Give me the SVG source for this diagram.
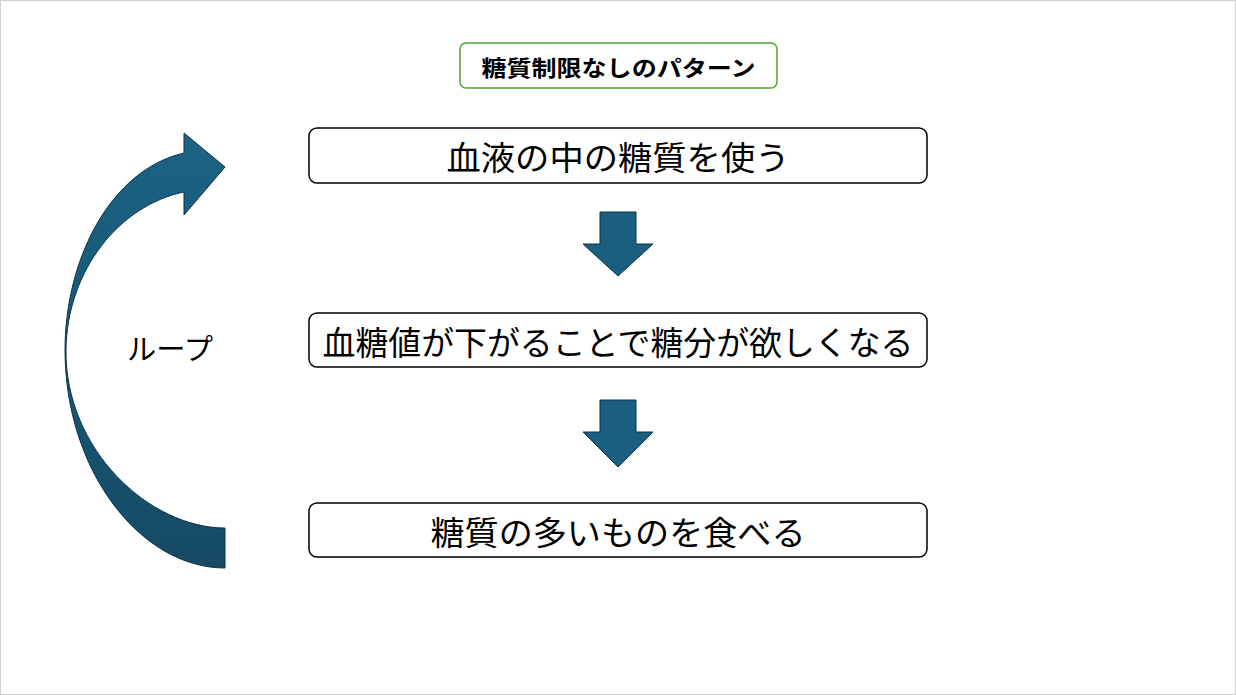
<svg xmlns="http://www.w3.org/2000/svg" width="1236" height="695" viewBox="0 0 1236 695">
<style>
.box{fill:#fff;stroke:#000;stroke-width:1.5}
.t{font-family:"Noto Sans CJK JP","Noto Sans CJK SC",sans-serif;fill:#000;text-anchor:middle;dominant-baseline:central}
.arr{fill:#1a5f80;stroke:#0f3347;stroke-width:1}
</style>
<defs>
<linearGradient id="g" x1="0" y1="0" x2="0" y2="1">
<stop offset="0" stop-color="#1b6384"/>
<stop offset="1" stop-color="#164a64"/>
</linearGradient>
</defs>
<rect x="0.5" y="0.5" width="1235" height="694" fill="#fff" stroke="#d0d0d0"/>
<g id="title">
<rect x="460" y="43" width="317" height="45" rx="6" fill="#fff" stroke="#4ea72e" stroke-width="1.5"/>
<text class="t" x="618.5" y="65.5" font-size="22" font-weight="bold" textLength="274" lengthAdjust="spacingAndGlyphs">糖質制限なしのパターン</text>
</g>
<g id="n1">
<rect class="box" x="309" y="128" width="618" height="55" rx="8"/>
<text class="t" x="618" y="156" font-size="33" textLength="343" lengthAdjust="spacingAndGlyphs">血液の中の糖質を使う</text>
</g>
<g id="n2">
<rect class="box" x="309" y="313" width="618" height="54" rx="8"/>
<text class="t" x="618" y="341" font-size="33" textLength="591" lengthAdjust="spacingAndGlyphs">血糖値が下がることで糖分が欲しくなる</text>
</g>
<g id="n3">
<rect class="box" x="309" y="503" width="618" height="54" rx="8"/>
<text class="t" x="618" y="531" font-size="33" textLength="375" lengthAdjust="spacingAndGlyphs">糖質の多いものを食べる</text>
</g>
<g id="loop">
<path d="M184,153 L184,133 L225,167 L184,215 L184,192 C120,205 67,270 66,350 C65,450 150,528 225,528 L225,568 C140,568 65,470 65,350 C65,260 110,170 184,153 Z" fill="url(#g)" stroke="#0f3347" stroke-width="1"/>
<text class="t" x="170" y="347" font-size="29" textLength="86" lengthAdjust="spacingAndGlyphs">ループ</text>
</g>
<g id="connectors">
<path class="arr" d="M600,212 H636 V244 H653 L618,276 L583,244 H600 Z"/>
<path class="arr" d="M600,400 H636 V432 H653 L618,467 L583,432 H600 Z"/>
</g>
</svg>
